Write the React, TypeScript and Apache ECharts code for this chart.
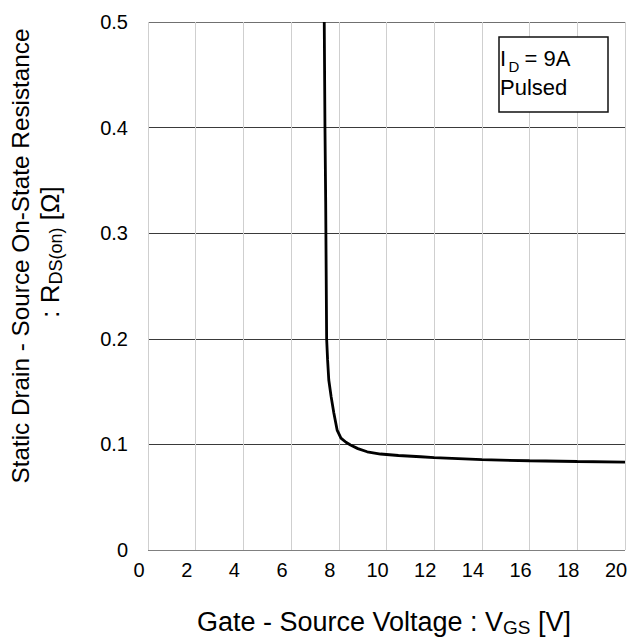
import React, { useEffect, useRef } from 'react';
import * as echarts from 'echarts';

// Gate-source voltage [V]
const vgs = [7.39, 7.42, 7.45, 7.49, 7.53, 7.58, 7.68, 7.79, 7.93, 8.09, 8.3, 8.49, 8.8, 9.19, 9.75, 10.5, 11.43, 12, 14, 16, 18, 20];
// Static drain-source on-state resistance [Ohm]
const rds = [0.5, 0.4, 0.33, 0.2, 0.18, 0.161, 0.145, 0.13, 0.1136, 0.106, 0.102, 0.0994, 0.096, 0.093, 0.0909, 0.0895, 0.0883, 0.0875, 0.0855, 0.0845, 0.0838, 0.0833];

const xMin = 0, xMax = 20, xStep = 2;
const yMin = 0, yMax = 0.5, yStep = 0.1;

const FONT = '"Liberation Sans", Arial, Helvetica, sans-serif';

export default function App() {
  const ref = useRef<HTMLDivElement>(null);
  useEffect(() => {
    if (!ref.current) return;
    const chart = echarts.init(ref.current, undefined, { renderer: 'svg' });
    const points = vgs.map((v, i) => [v, rds[i]]);
    chart.setOption({
      animation: false,
      backgroundColor: '#ffffff',
      textStyle: { fontFamily: FONT },
      grid: { left: 148, top: 22, width: 477, height: 528 },
      xAxis: {
        type: 'value',
        min: xMin,
        max: xMax,
        interval: xStep,
        axisLine: { show: false },
        axisTick: { show: false },
        axisLabel: {
          fontSize: 20,
          color: '#000',
          fontFamily: FONT,
          margin: 10,
          padding: [0, 18, 0, 0],
        },
        splitLine: { show: true, lineStyle: { color: '#cfcfcf', width: 1 } },
      },
      yAxis: {
        type: 'value',
        min: yMin,
        max: yMax,
        interval: yStep,
        axisLine: { show: false },
        axisTick: { show: false },
        axisLabel: {
          fontSize: 20,
          color: '#000',
          fontFamily: FONT,
          margin: 20,
          formatter: (v: number) => (Math.abs(v) < 1e-9 ? '0' : v.toFixed(1)),
        },
        splitLine: {
          show: true,
          lineStyle: { color: ['#808080', '#3a3a3a', '#3a3a3a', '#3a3a3a', '#3a3a3a', '#707070'], width: 1 },
        },
      },
      graphic: [
        {
          type: 'rect',
          z: 10,
          shape: { x: 499, y: 37, width: 109, height: 75 },
          style: { fill: '#fff', stroke: '#111', lineWidth: 1.5 },
        },
        {
          type: 'text', z: 11, x: 500, y: 58,
          style: { text: 'I', fontSize: 22, fontFamily: FONT, fill: '#000', verticalAlign: 'middle', align: 'left' },
        },
        {
          type: 'text', z: 11, x: 508.5, y: 66.5,
          style: { text: 'D', fontSize: 15, fontFamily: FONT, fill: '#000', verticalAlign: 'middle', align: 'left' },
        },
        {
          type: 'text', z: 11, x: 518.5, y: 58,
          style: { text: ' = 9A', fontSize: 22, fontFamily: FONT, fill: '#000', verticalAlign: 'middle', align: 'left' },
        },
        {
          type: 'text', z: 11, x: 500, y: 87.5,
          style: { text: 'Pulsed', fontSize: 22, fontFamily: FONT, fill: '#000', verticalAlign: 'middle', align: 'left' },
        },
        {
          type: 'text', z: 11, x: 384, y: 622,
          style: {
            text: '{m|Gate - Source Voltage : V}{s|GS}{m| [V]}',
            align: 'center',
            verticalAlign: 'middle',
            rich: {
              m: { fontSize: 27, fontFamily: FONT, fill: '#000', lineHeight: 30 },
              s: { fontSize: 19, fontFamily: FONT, fill: '#000', lineHeight: 19, verticalAlign: 'bottom' },
            },
          },
        },
        {
          type: 'text', z: 11, x: 20, y: 256, rotation: Math.PI / 2,
          style: {
            text: 'Static Drain - Source On-State Resistance',
            fontSize: 24.3, fontFamily: FONT, fill: '#000', align: 'center', verticalAlign: 'middle',
          },
        },
        {
          type: 'text', z: 11, x: 50, y: 252, rotation: Math.PI / 2,
          style: {
            text: '{m|: R}{s|DS(on)}{m| [Ω]}',
            align: 'center',
            verticalAlign: 'middle',
            rich: {
              m: { fontSize: 26, fontFamily: FONT, fill: '#000', lineHeight: 29 },
              s: { fontSize: 18, fontFamily: FONT, fill: '#000', lineHeight: 18, verticalAlign: 'bottom' },
            },
          },
        },
      ],
      series: [
        {
          type: 'line',
          data: points,
          showSymbol: false,
          smooth: false,
          lineStyle: { color: '#000', width: 2.8 },
          z: 5,
        },
      ],
    });
    return () => chart.dispose();
  }, []);
  return <div ref={ref} style={{ position: 'absolute', left: 0, top: 0, width: 636, height: 639 }} />;
}
